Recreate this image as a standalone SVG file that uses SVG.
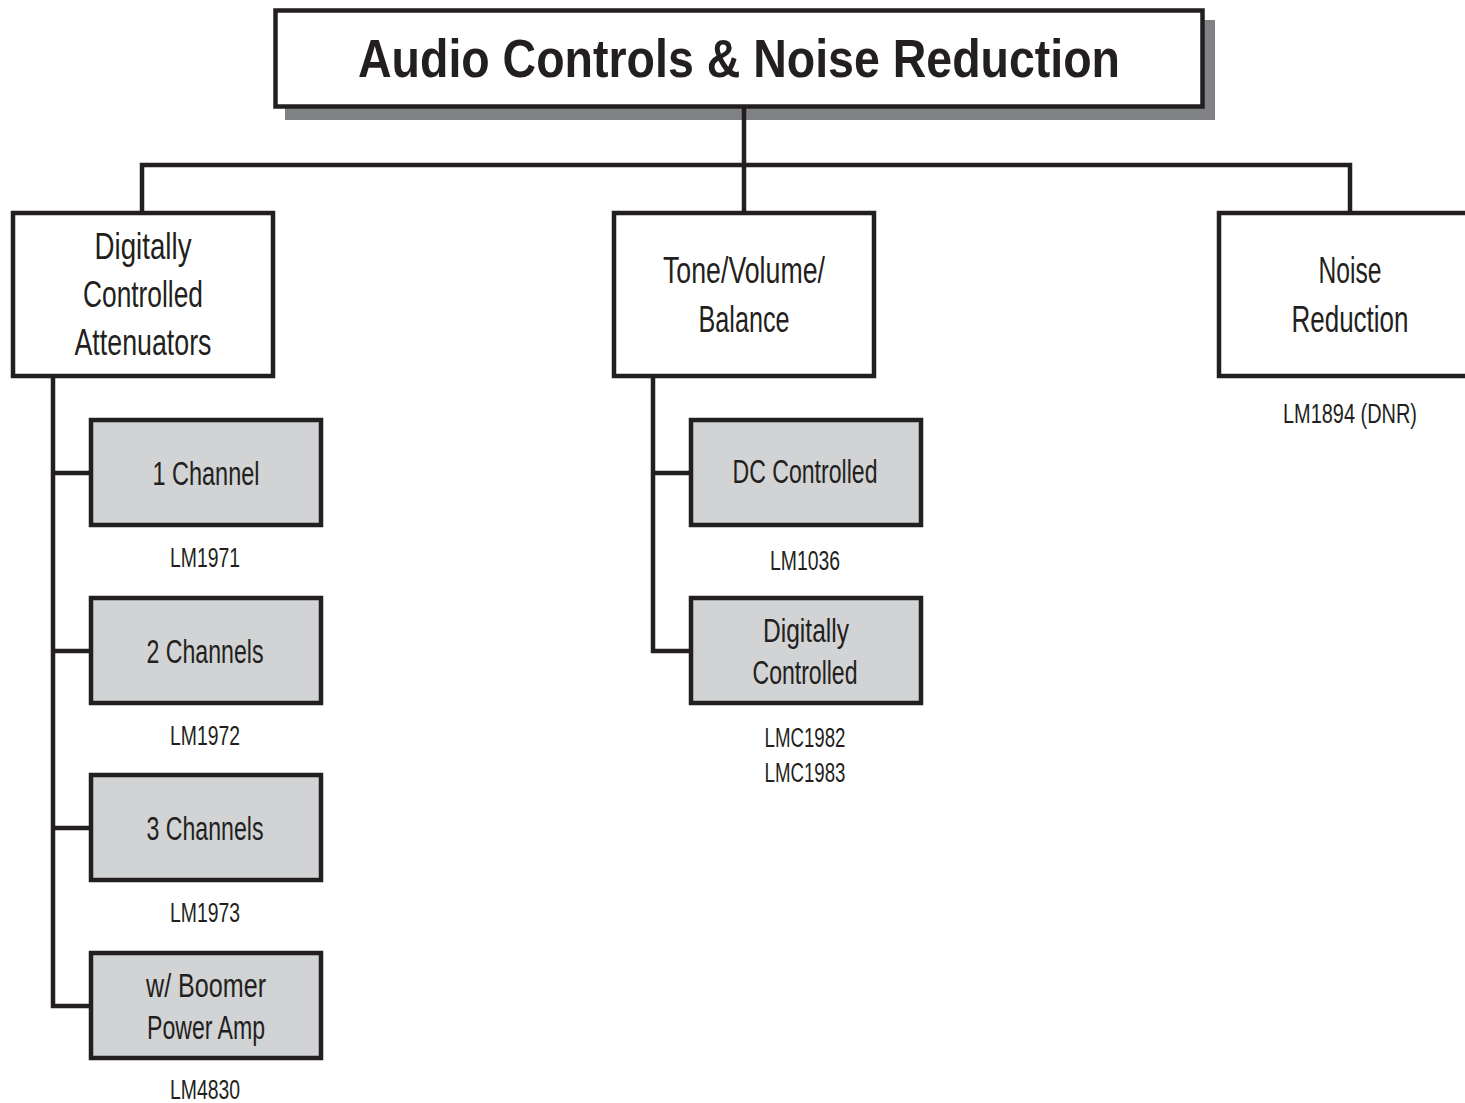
<svg xmlns="http://www.w3.org/2000/svg" width="1465" height="1103" viewBox="0 0 1465 1103">
<style>
.box{fill:#ffffff;stroke:#231f20;stroke-width:4.5}
.gbox{fill:#d1d3d4;stroke:#231f20;stroke-width:4.5}
.ln{fill:none;stroke:#231f20;stroke-width:4.5;stroke-linecap:square}
text{font-family:"Liberation Sans",Arial,sans-serif;fill:#231f20;text-anchor:middle}
.t1{font-size:37px}
.t2{font-size:34px}
.lb{font-size:27px}
.ti{font-size:54px;font-weight:bold}
</style>
<rect width="1465" height="1103" fill="#ffffff"/>
<g id="title">
<rect x="285" y="20" width="930" height="100" fill="#808285"/>
<rect class="box" x="275.5" y="10.5" width="927" height="96"/>
<text class="ti" x="739" y="77" textLength="762" lengthAdjust="spacingAndGlyphs">Audio Controls &amp; Noise Reduction</text>
</g>
<g id="connectors">
<path class="ln" d="M744 109 V211 M142 165 H1350 M142 165 V211 M1350 165 V211"/>
<path class="ln" d="M53 378 V1006 M53 473 H89 M53 651 H89 M53 828 H89 M53 1006 H89"/>
<path class="ln" d="M653 378 V651 M653 473 H689 M653 651 H689"/>
</g>
<g id="dca">
<rect class="box" x="13" y="213" width="260" height="163"/>
<text class="t1" x="143" y="259" textLength="97" lengthAdjust="spacingAndGlyphs">Digitally</text>
<text class="t1" x="143" y="307" textLength="120" lengthAdjust="spacingAndGlyphs">Controlled</text>
<text class="t1" x="143" y="355" textLength="137" lengthAdjust="spacingAndGlyphs">Attenuators</text>
</g>
<g id="tvb">
<rect class="box" x="614" y="213" width="260" height="163"/>
<text class="t1" x="744" y="283" textLength="162" lengthAdjust="spacingAndGlyphs">Tone/Volume/</text>
<text class="t1" x="744" y="332" textLength="91" lengthAdjust="spacingAndGlyphs">Balance</text>
</g>
<g id="nr">
<rect class="box" x="1219" y="213" width="260" height="163"/>
<text class="t1" x="1350" y="283" textLength="63" lengthAdjust="spacingAndGlyphs">Noise</text>
<text class="t1" x="1350" y="332" textLength="117" lengthAdjust="spacingAndGlyphs">Reduction</text>
<text class="lb" x="1350" y="423" textLength="134" lengthAdjust="spacingAndGlyphs">LM1894 (DNR)</text>
</g>
<g id="ch1">
<rect class="gbox" x="91" y="420" width="230" height="105"/>
<text class="t2" x="206" y="485" textLength="107" lengthAdjust="spacingAndGlyphs">1 Channel</text>
<text class="lb" x="205" y="567" textLength="70" lengthAdjust="spacingAndGlyphs">LM1971</text>
</g>
<g id="ch2">
<rect class="gbox" x="91" y="598" width="230" height="105"/>
<text class="t2" x="205" y="663" textLength="117" lengthAdjust="spacingAndGlyphs">2 Channels</text>
<text class="lb" x="205" y="745" textLength="70" lengthAdjust="spacingAndGlyphs">LM1972</text>
</g>
<g id="ch3">
<rect class="gbox" x="91" y="775" width="230" height="105"/>
<text class="t2" x="205" y="840" textLength="117" lengthAdjust="spacingAndGlyphs">3 Channels</text>
<text class="lb" x="205" y="922" textLength="70" lengthAdjust="spacingAndGlyphs">LM1973</text>
</g>
<g id="boomer">
<rect class="gbox" x="91" y="953" width="230" height="105"/>
<text class="t2" x="206" y="997" textLength="120" lengthAdjust="spacingAndGlyphs">w/ Boomer</text>
<text class="t2" x="206" y="1039" textLength="118" lengthAdjust="spacingAndGlyphs">Power Amp</text>
<text class="lb" x="205" y="1099" textLength="70" lengthAdjust="spacingAndGlyphs">LM4830</text>
</g>
<g id="dcc">
<rect class="gbox" x="691" y="420" width="230" height="105"/>
<text class="t2" x="805" y="483" textLength="145" lengthAdjust="spacingAndGlyphs">DC Controlled</text>
<text class="lb" x="805" y="570" textLength="70" lengthAdjust="spacingAndGlyphs">LM1036</text>
</g>
<g id="dig">
<rect class="gbox" x="691" y="598" width="230" height="105"/>
<text class="t2" x="806" y="642" textLength="86" lengthAdjust="spacingAndGlyphs">Digitally</text>
<text class="t2" x="805" y="684" textLength="105" lengthAdjust="spacingAndGlyphs">Controlled</text>
<text class="lb" x="805" y="747" textLength="81" lengthAdjust="spacingAndGlyphs">LMC1982</text>
<text class="lb" x="805" y="782" textLength="81" lengthAdjust="spacingAndGlyphs">LMC1983</text>
</g>
</svg>
